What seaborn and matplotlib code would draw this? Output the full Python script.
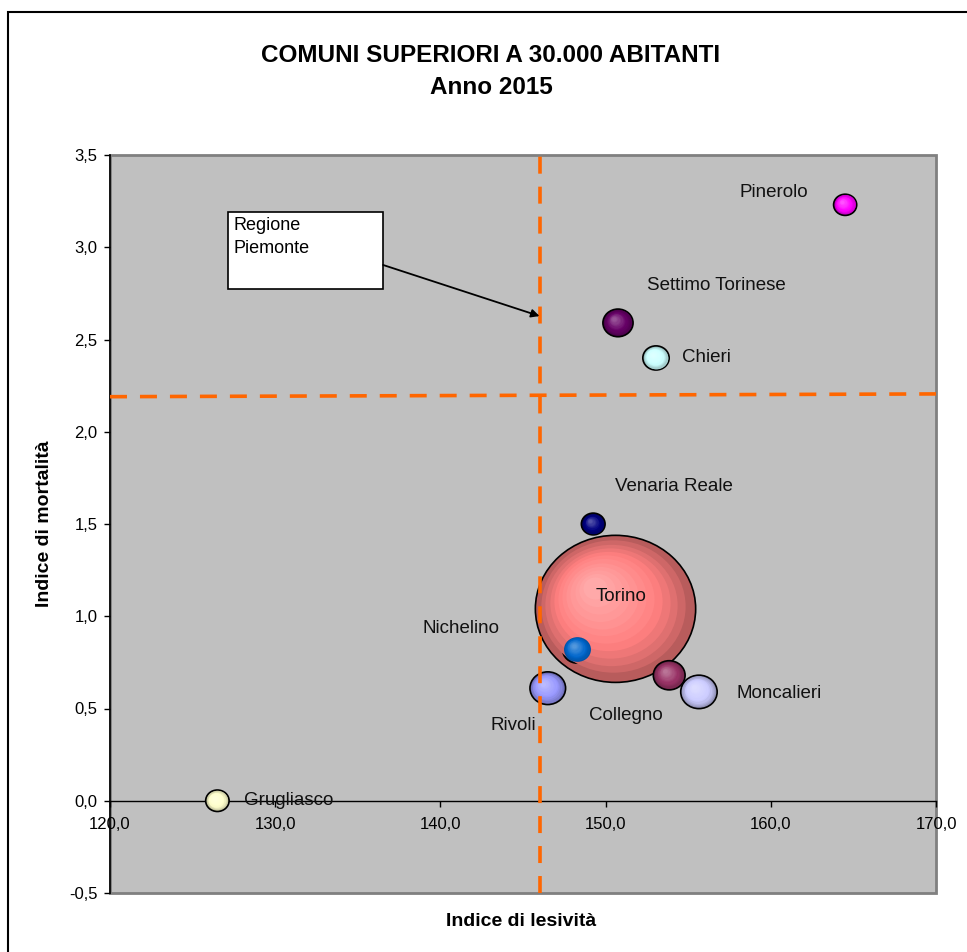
import matplotlib
matplotlib.use("Agg")
import matplotlib.pyplot as plt
import matplotlib.patches as mpatches
import matplotlib.colors as mcolors
from matplotlib.path import Path
from matplotlib.transforms import Affine2D, offset_copy
from matplotlib.ticker import FuncFormatter, MultipleLocator
import numpy as np
import pandas as pd
import seaborn as sns


# data
COMUNI = ["Torino", "Moncalieri", "Collegno", "Rivoli", "Nichelino",
          "Settimo Torinese", "Chieri", "Venaria Reale", "Pinerolo", "Grugliasco"]
LESIVITA = [150.6, 155.65, 153.85, 146.5, 148.3, 150.75, 153.05, 149.25, 164.5, 126.5]
MORTALITA = [1.04, 0.59, 0.68, 0.61, 0.82, 2.59, 2.40, 1.50, 3.23, 0.0]
ABITANTI = [890000, 46000, 35000, 44000, 31000, 31500, 24000, 19500, 18500, 19000]
COLORI = ["#FF8080", "#CCCCFF", "#993366", "#9999FF", "#0066CC",
          "#660066", "#CCFFFF", "#000080", "#FF00FF", "#FFFFCC"]

REGIONE_LESIVITA = 146.0
REGIONE_MORTALITA = [2.19, 2.205]   # line is slightly tilted in the original
X_LIM = [120, 170]
Y_LIM = [-0.5, 3.5]

# label offsets (points) relative to each bubble
LABEL_POS = {
    "Torino": (4, 9, "center"),
    "Moncalieri": (58, -1, "center"),
    "Collegno": (-31, -29, "center"),
    "Rivoli": (-25, -27, "center"),
    "Nichelino": (-84, 15, "center"),
    "Settimo Torinese": (71, 27, "center"),
    "Chieri": (19, 0, "left"),
    "Venaria Reale": (58, 27, "center"),
    "Pinerolo": (-51, 9, "center"),
    "Grugliasco": (19, 0, "left"),
}

ORANGE = "#FF6600"
PLOT_BG = "#C0C0C0"
SIZE_SCALE = (160.3 * 0.72) ** 2 / 890000   # marker area per inhabitant

plt.rcParams["font.family"] = ["Liberation Sans", "DejaVu Sans"]

# Excel stretched the chart a little horizontally -> elliptical bubbles
ELLIPSE = Path.unit_circle().transformed(Affine2D().scale(1.09, 1.0))


def shade(color, t):
    c = np.array(mcolors.to_rgb(color))
    if t < 0:
        return tuple(c * (1 + t))
    return tuple(c + (1 - c) * t)


def comma(v, pos):
    return f"{v:.1f}".replace(".", ",")


df = pd.DataFrame({"Comune": COMUNI, "Lesivita": LESIVITA,
                   "Mortalita": MORTALITA, "Abitanti": ABITANTI})

fig = plt.figure(figsize=(9.67, 9.52), dpi=100)
ax = fig.add_axes([110 / 967, 1 - 893 / 952, 826 / 967, 738 / 952])
ax.set_facecolor(PLOT_BG)

# base bubbles (darker rim)
dark = {c: shade(col, -0.28) for c, col in zip(COMUNI, COLORI)}
sns.scatterplot(data=df, x="Lesivita", y="Mortalita", hue="Comune", palette=dark,
                size="Abitanti", sizes={p: p * SIZE_SCALE for p in ABITANTI},
                marker=ELLIPSE, edgecolor="black", linewidth=1.2,
                legend=False, ax=ax, zorder=3)

# fake radial gradient
n_layers = 12
for x, y, pop, col in zip(LESIVITA, MORTALITA, ABITANTI, COLORI):
    s = pop * SIZE_SCALE
    r = np.sqrt(s) / 2
    for i in range(1, n_layers):
        f = 0.9 - 0.75 * (i - 1) / (n_layers - 2)
        t = -0.28 + 0.6 * (i / (n_layers - 1)) ** 0.8
        off = (1 - f) * r * 0.3
        tr = offset_copy(ax.transData, fig=fig, x=-off, y=off, units="points")
        ax.scatter([x], [y], s=s * f * f, marker=ELLIPSE, color=shade(col, t),
                   linewidth=0, transform=tr, zorder=3)

# labels
for x, y, name in zip(LESIVITA, MORTALITA, COMUNI):
    dx, dy, ha = LABEL_POS[name]
    ax.annotate(name, (x, y), xytext=(dx, dy), textcoords="offset points",
                ha=ha, va="center", fontsize=13.5, color="#111111", zorder=6)

# regional reference lines
ax.axvline(REGIONE_LESIVITA, color=ORANGE, lw=2.6, ls=(0, (4.7, 3.6)), zorder=4)
ax.plot(X_LIM, REGIONE_MORTALITA, color=ORANGE, lw=2.6, ls=(0, (4.7, 3.6)), zorder=4)

# "Regione Piemonte" callout
ax.add_patch(mpatches.Rectangle((127.14, 2.774), 9.39, 0.417, facecolor="white",
                                edgecolor="black", lw=1.2, zorder=5))
ax.text(127.5, 3.162, "Regione\nPiemonte", ha="left", va="top", fontsize=13,
        linespacing=1.45, zorder=6)
ax.annotate("", xy=(REGIONE_LESIVITA, 2.627), xytext=(136.53, 2.904),
            arrowprops=dict(arrowstyle="-|>", color="black", lw=1.3,
                            mutation_scale=12, shrinkA=0, shrinkB=0), zorder=6)

# axes
ax.set_xlim(X_LIM)
ax.set_ylim(Y_LIM)
ax.xaxis.set_major_locator(MultipleLocator(10))
ax.yaxis.set_major_locator(MultipleLocator(0.5))
ax.xaxis.set_major_formatter(FuncFormatter(comma))
ax.yaxis.set_major_formatter(FuncFormatter(comma))
ax.tick_params(axis="both", direction="out", length=4, width=1, labelsize=12,
               colors="black")
ax.tick_params(axis="x", pad=8)
ax.tick_params(axis="y", pad=5)

for side in ["top", "right"]:
    ax.spines[side].set_visible(False)
ax.spines["bottom"].set_position(("data", 0))
ax.spines["bottom"].set_linewidth(1)
ax.spines["left"].set_linewidth(1.2)
ax.add_patch(mpatches.Rectangle((0, 0), 1, 1, transform=ax.transAxes, fill=False,
                                edgecolor="#808080", lw=2, clip_on=False, zorder=1))

ax.set_xlabel("Indice di lesività", fontsize=14, fontweight="bold")
ax.set_ylabel("Indice di mortalità", fontsize=14, fontweight="bold")
ax.xaxis.set_label_coords(0.4976, -0.027)
ax.yaxis.set_label_coords(-0.069, 0.5)

fig.text(491 / 967, 1 - 55 / 952, "COMUNI SUPERIORI A 30.000 ABITANTI",
         ha="center", va="center", fontsize=17.5, fontweight="bold")
fig.text(491 / 967, 1 - 87 / 952, "Anno 2015",
         ha="center", va="center", fontsize=17.5, fontweight="bold")

# chart frame (only left and top edges fall inside the picture)
fig.add_artist(mpatches.Rectangle((8 / 967, -0.1), 1.2, 1.1 - 12 / 952,
                                  transform=fig.transFigure, fill=False,
                                  edgecolor="black", lw=1.5))

fig.savefig("out.png", dpi=100)
